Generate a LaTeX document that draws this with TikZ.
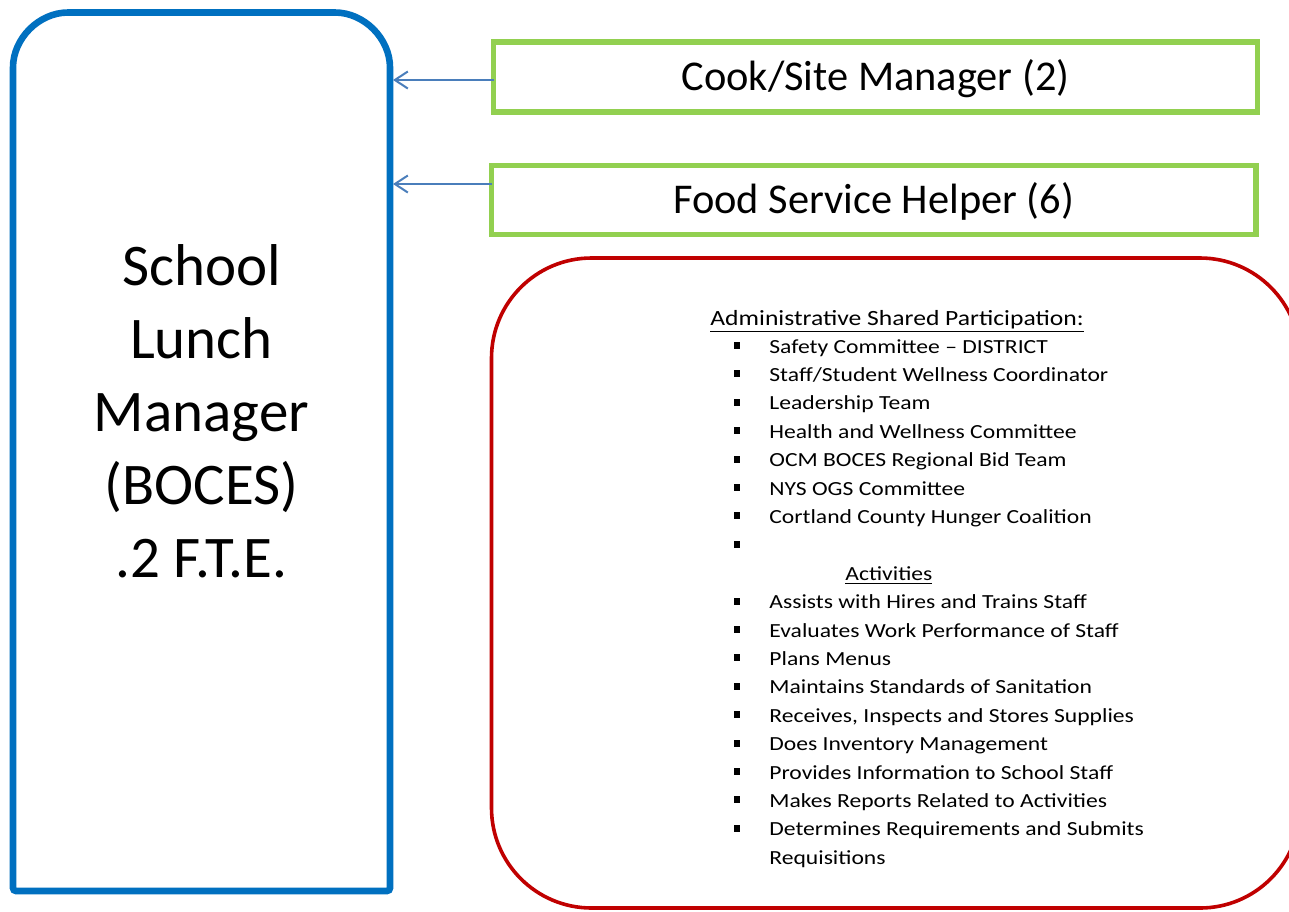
\documentclass[tikz,border=0pt]{standalone}
\usepackage{fontspec}
\setmainfont{Carlito}
\newfontfamily\listfont[FakeStretch=1.18]{Carlito}
\usetikzlibrary{arrows.meta,calc}
\definecolor{mgrblue}{HTML}{0070C0}
\definecolor{boxgreen}{HTML}{92D050}
\definecolor{boxred}{HTML}{C00000}
\definecolor{arrblue}{HTML}{4A7EBB}
\begin{document}
\begin{tikzpicture}[x=0.5pt,y=-0.5pt,
  big/.style={anchor=base, inner sep=0, font=\fontsize{29.5pt}{36.5pt}\selectfont},
  greenbox/.style={draw=boxgreen, line width=2.6pt, inner sep=0, outer sep=0, text height=17pt, text depth=4pt, font=\fontsize{21.2pt}{25pt}\selectfont},
  redbox/.style={draw=boxred, line width=1.8pt, rounded corners=50pt, inner sep=0, outer sep=0},
  mgrline/.style={draw=mgrblue, line width=3.3pt, rounded corners=1.5pt},
  conn/.style={draw=arrblue, line width=1pt, -{Straight Barb[length=6.5pt,width=8.5pt]}},
  item/.style={anchor=base west, inner sep=0, font=\listfont\fontsize{10pt}{12pt}\selectfont},
  head/.style={anchor=base west, inner sep=0, font=\listfont\fontsize{10.85pt}{12pt}\selectfont},
  bul/.style={fill=black, inner sep=0, minimum width=3pt, minimum height=3.5pt}
]
\useasboundingbox (0,0) rectangle (1289,911);
\fill[white] (0,0) rectangle (1289,911);
\clip (0,0) rectangle (1289,911);

% manager box
\node[inner sep=0, outer sep=0, minimum width=188.5pt, minimum height=439.25pt] (mgr) at (201.5,451.75) {};
\draw[mgrline] (mgr.south west) -- ([yshift=-29pt]mgr.north west)
  arc[start angle=180, end angle=90, radius=29pt] -- ([xshift=-29pt]mgr.north east)
  arc[start angle=90, end angle=0, radius=29pt] -- (mgr.south east) -- cycle;
\node[big] (l1) at (201.5,285) {School};
\node[big] (l2) at (201.5,358) {Lunch};
\node[big] (l3) at (201.5,431) {Manager};
\node[big] (l4) at (201.5,504) {(BOCES)};
\node[big] (l5) at (201.5,577) {.2 F.T.E.};

% green boxes
\node[greenbox, minimum width=382pt, minimum height=35pt] (cook) at (875.5,77) {Cook/Site Manager (2)};
\node[greenbox, minimum width=382.25pt, minimum height=34.5pt] (helper) at (873.75,200) {Food Service Helper (6)};

% connectors
\draw[conn] ($(cook.west)+(0,3)$) -- ($(mgr.east |- cook.west)+(3,3)$);
\draw[conn] ($(helper.west)+(0,-16)$) -- ($(mgr.east |- helper.west)+(3,-16)$);

% red box
\node[redbox, minimum width=404.25pt, minimum height=325pt] (admin) at (895.75,583) {};

\node[head] (t0) at (710,325) {\underline{Administrative Shared Participation:}};
\node[item] (a0) at (769,353) {Safety Committee – DISTRICT};
\node[item] (a1) at (769,381.4) {Staff/Student Wellness Coordinator};
\node[item] (a2) at (769,409.8) {Leadership Team};
\node[item] (a3) at (769,438.2) {Health and Wellness Committee};
\node[item] (a4) at (769,466.6) {OCM BOCES Regional Bid Team};
\node[item] (a5) at (769,495) {NYS OGS Committee};
\node[item] (a6) at (769,523.4) {Cortland County Hunger Coalition};
\node[item] (t1) at (845,580.2) {\underline{Activities}};
\node[item] (b0) at (769,608.6) {Assists with Hires and Trains Staff};
\node[item] (b1) at (769,637) {Evaluates Work Performance of Staff};
\node[item] (b2) at (769,665.4) {Plans Menus};
\node[item] (b3) at (769,693.8) {Maintains Standards of Sanitation};
\node[item] (b4) at (769,722.2) {Receives, Inspects and Stores Supplies};
\node[item] (b5) at (769,750.6) {Does Inventory Management};
\node[item] (b6) at (769,779) {Provides Information to School Staff};
\node[item] (b7) at (769,807.4) {Makes Reports Related to Activities};
\node[item] (b8) at (769,835.8) {Determines Requirements and Submits};
\node[item] (b9) at (769,864.2) {Requisitions};

\foreach \y [count=\i] in {353,381.4,409.8,438.2,466.6,495,523.4,551.8,608.6,637,665.4,693.8,722.2,750.6,779,807.4,835.8}
  \node[bul] (dot\i) at (736.5,\y-7.5) {};
\end{tikzpicture}
\end{document}
